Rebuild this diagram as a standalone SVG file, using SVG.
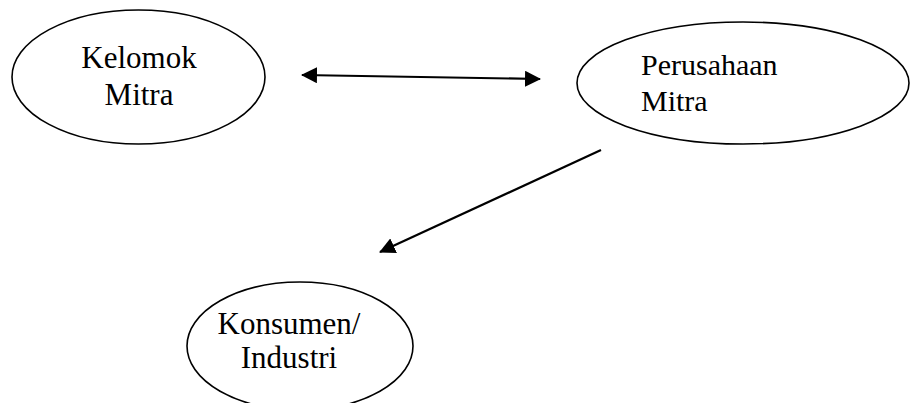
<svg xmlns="http://www.w3.org/2000/svg" width="910" height="403" viewBox="0 0 910 403">
  <style>
    .node ellipse { fill: #ffffff; stroke: #000000; stroke-width: 1.6; }
    .node text { font-family: "Liberation Serif", "Times New Roman", serif; font-size: 31px; fill: #000000; }
    .edge { stroke: #000000; stroke-width: 2.2; fill: none; }
  </style>
  <defs>
    <marker id="head" viewBox="0 0 16 16" refX="15" refY="8" markerWidth="16" markerHeight="16" markerUnits="userSpaceOnUse" orient="auto-start-reverse">
      <path d="M0,0 L16,8 L0,16 Z" fill="#000000"/>
    </marker>
  </defs>

  <g id="kelompok-mitra" class="node">
    <ellipse cx="138.5" cy="77" rx="126.5" ry="67"/>
    <text x="139" y="68" text-anchor="middle">Kelomok</text>
    <text x="139" y="105" text-anchor="middle">Mitra</text>
  </g>

  <g id="perusahaan-mitra" class="node">
    <ellipse cx="743" cy="83" rx="166" ry="61"/>
    <text x="641" y="75" style="font-size:30px">Perusahaan</text>
    <text x="641" y="111" style="font-size:30px">Mitra</text>
  </g>

  <g id="konsumen-industri" class="node">
    <ellipse cx="300" cy="346" rx="113" ry="64"/>
    <text x="289" y="334" text-anchor="middle">Konsumen/</text>
    <text x="289" y="368" text-anchor="middle">Industri</text>
  </g>

  <g id="connectors">
    <line class="edge" x1="302" y1="75" x2="540" y2="79" marker-start="url(#head)" marker-end="url(#head)"/>
    <line class="edge" x1="601" y1="150" x2="380" y2="252" marker-end="url(#head)"/>
  </g>
</svg>
